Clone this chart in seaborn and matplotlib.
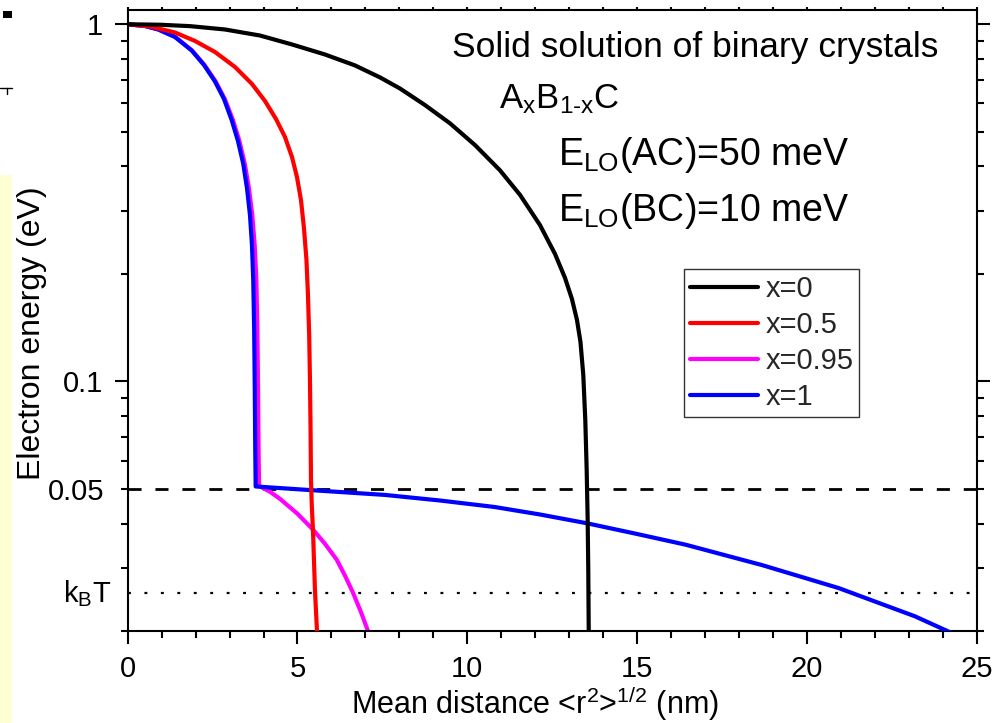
import numpy as np
import pandas as pd
import matplotlib
matplotlib.use("Agg")
import matplotlib.pyplot as plt
from matplotlib.lines import Line2D
from matplotlib.patches import Rectangle
from matplotlib.ticker import FixedLocator, FixedFormatter
import matplotlib.transforms as mtransforms
import seaborn as sns

# ---- data: electron energy (eV) vs mean distance (nm) ----
r_x0 = [0.0, 0.951, 1.835, 2.865, 3.896, 4.838, 5.810, 6.693, 7.429, 8.018,
        8.754, 9.491, 10.227, 10.963, 11.552, 12.141, 12.583, 12.877, 13.083,
        13.230, 13.333, 13.416, 13.475, 13.516, 13.545, 13.563, 13.578]
E_x0 = [1.0, 0.997, 0.988, 0.967, 0.930, 0.878, 0.823, 0.767, 0.710, 0.661,
        0.594, 0.528, 0.459, 0.390, 0.333, 0.274, 0.2275, 0.195, 0.170,
        0.1486, 0.129, 0.1043, 0.0780, 0.0565, 0.0410, 0.0297, 0.0189]

r_x05 = [0.0, 0.657, 1.393, 1.982, 2.571, 3.160, 3.660, 4.043, 4.367, 4.632,
         4.838, 4.985, 5.103, 5.191, 5.265, 5.309, 5.345, 5.368, 5.386, 5.398,
         5.421, 5.456, 5.486, 5.515, 5.551, 5.589]
E_x05 = [1.0, 0.986, 0.9485, 0.898, 0.8365, 0.7594, 0.6807, 0.6099, 0.5431, 0.4836,
         0.4251, 0.3737, 0.3222, 0.2690, 0.2188, 0.1746, 0.1349, 0.1010, 0.0731, 0.0530,
         0.0451, 0.0384, 0.0316, 0.0261, 0.0222, 0.0189]

r_x095 = [0.0, 0.51, 0.905, 1.40, 1.895, 2.26, 2.59, 2.86, 3.10, 3.29, 3.45,
          3.57, 3.67, 3.74, 3.79, 3.82, 3.84, 3.855, 3.87,
          3.896, 4.191, 4.485, 5.000, 5.465, 5.810, 6.154, 6.399, 6.643, 6.870,
          7.085, 7.135]
E_x095 = [1.0, 0.989, 0.967, 0.9214, 0.8445, 0.7693, 0.6917, 0.6178, 0.5396, 0.4713, 0.4064,
          0.3480, 0.2924, 0.2410, 0.1924, 0.1394, 0.0947, 0.0643, 0.0512,
          0.0508, 0.0491, 0.0469, 0.0426, 0.0384, 0.0351, 0.0317, 0.0286, 0.0255, 0.0226,
          0.0199, 0.0193]

r_x1 = [0.0, 0.509, 0.901, 1.393, 1.885, 2.247, 2.571, 2.836, 3.062, 3.248, 3.404,
        3.513, 3.601, 3.660, 3.698, 3.725, 3.743, 3.757, 3.769,
        5.271, 7.577, 9.196, 10.804, 12.141, 13.504, 14.938, 16.428, 18.678,
        20.928, 23.177, 24.187, 24.361]
E_x1 = [1.0, 0.989, 0.967, 0.9214, 0.8445, 0.7693, 0.6917, 0.6178, 0.5396, 0.4713, 0.4064,
        0.3480, 0.2924, 0.2410, 0.1924, 0.1394, 0.0947, 0.0643, 0.0508,
        0.0497, 0.0481, 0.0464, 0.0445, 0.0424, 0.0401, 0.0375, 0.0349, 0.0306,
        0.0264, 0.0220, 0.0199, 0.0196]

series_labels = ["x=0", "x=0.5", "x=0.95", "x=1"]
series_colors = ["#000000", "#FF0000", "#FF00FF", "#0000FF"]

E_LO_AC = 0.05      # LO phonon energy of AC (eV)
kT = 0.0255         # thermal energy at room temperature (eV)

x_major = [0, 5, 10, 15, 20, 25]
y_major = [1.0, 0.1]
y_minor = [0.02, 0.03, 0.04, 0.05, 0.06, 0.07, 0.08, 0.09,
           0.2, 0.3, 0.4, 0.5, 0.6, 0.7, 0.8, 0.9]

# ---- style ----
sns.set_theme(style="ticks")
plt.rcParams["font.family"] = ["Liberation Sans", "DejaVu Sans"]
plt.rcParams["mathtext.fontset"] = "custom"
plt.rcParams["mathtext.rm"] = "Liberation Sans"
plt.rcParams["mathtext.it"] = "Liberation Sans:italic"
plt.rcParams["mathtext.default"] = "regular"
plt.rcParams["axes.linewidth"] = 1.5

fig = plt.figure(figsize=(9.95, 7.23), dpi=100)
ax = fig.add_axes([0.1283, 0.1272, 0.8533, 0.8589])

# reference levels
ax.axhline(E_LO_AC, color="black", lw=2.0, ls=(0, (4.7, 5.0)), zorder=1)
ax.axhline(kT, color="black", lw=1.6, ls=(0, (1.3, 6.1)), zorder=1)

frames = []
for lab, r, e in zip(series_labels, [r_x0, r_x05, r_x095, r_x1],
                     [E_x0, E_x05, E_x095, E_x1]):
    frames.append(pd.DataFrame({"r": r, "E": e, "series": lab}))
df = pd.concat(frames, ignore_index=True)

palette = dict(zip(series_labels, series_colors))
zorders = {"x=0.95": 2, "x=1": 3, "x=0.5": 4, "x=0": 5}
for lab in ["x=0.95", "x=1", "x=0.5", "x=0"]:
    sub = df[df["series"] == lab]
    sns.lineplot(data=sub, x="r", y="E", ax=ax, color=palette[lab], lw=3.0,
                 sort=False, estimator=None, zorder=zorders[lab], legend=False)

ax.set_yscale("log")
ax.set_xlim(0, 25)
ax.set_ylim(0.02, 1.096)

# x ticks
ax.xaxis.set_major_locator(FixedLocator(x_major))
ax.xaxis.set_minor_locator(FixedLocator(list(range(0, 26))))
ax.set_xticklabels([str(v) for v in x_major])

# y ticks
ax.yaxis.set_major_locator(FixedLocator(y_major))
ax.yaxis.set_major_formatter(FixedFormatter(["1", "0.1"]))
ax.yaxis.set_minor_locator(FixedLocator(y_minor))
ax.yaxis.set_minor_formatter(FixedFormatter(["0.05" if v == 0.05 else "" for v in y_minor]))

ax.tick_params(axis="both", which="major", direction="out", length=9.2, width=1.5,
               labelsize=21, top=True, right=True, color="black", labelcolor="black")
ax.tick_params(axis="both", which="minor", direction="out", length=5.0, width=1.5,
               labelsize=21, top=True, right=True, color="black", labelcolor="black")
ax.tick_params(axis="x", which="major", pad=8.0)
ax.tick_params(axis="y", which="major", pad=8.6)
ax.tick_params(axis="y", which="minor", pad=11.5)

for t in ax.xaxis.get_major_ticks() + ax.xaxis.get_minor_ticks():
    t.tick2line.set_markersize(2.0)

for s in ax.spines.values():
    s.set_color("black")
    s.set_linewidth(1.5)

ax.grid(False)

# kB T label at the thermal level
tr = mtransforms.blended_transform_factory(ax.transAxes, ax.transData)
ax.annotate(r"k$_\mathregular{B}$T", xy=(0, kT), xycoords=tr, xytext=(-12, -6.5),
            textcoords="offset points", ha="right", va="baseline", fontsize=21,
            color="black", annotation_clip=False)

ax.set_xlabel(r"Mean distance <r$^\mathregular{2}$>$^\mathregular{1/2}$ (nm)",
              fontsize=22, color="black")
ax.set_ylabel("Electron energy (eV)", fontsize=23, color="black")
ax.xaxis.set_label_coords(0.48, -0.086)
ax.yaxis.set_label_coords(-0.095, 0.48)

# description of the crystals
def ax_xy(px, py):
    return ((px - 127.7) / 849.0, (631.0 - py) / 621.0)

ta = dict(transform=ax.transAxes, color="black", va="baseline", ha="left")
ax.text(*ax_xy(452, 57), "Solid solution of binary crystals", fontsize=25.5, **ta)
ax.text(*ax_xy(499, 108), r"A$_\mathregular{x}$B$_\mathregular{1\text{-}x}$C",
        fontsize=25, **ta)
ax.text(*ax_xy(558, 165), r"E$_\mathregular{LO}$(AC)=50 meV", fontsize=27, **ta)
ax.text(*ax_xy(558, 221), r"E$_\mathregular{LO}$(BC)=10 meV", fontsize=27, **ta)

# legend in x order
handles = [Line2D([], [], color=c, lw=3.0) for c in series_colors]
leg = ax.legend(handles, series_labels, loc="upper left",
                bbox_to_anchor=ax_xy(684, 269), bbox_transform=ax.transAxes,
                borderaxespad=0, fontsize=21, frameon=True, fancybox=False,
                shadow=False, handlelength=2.35, handletextpad=0.25,
                borderpad=0.2, labelspacing=0.28)
leg.get_frame().set_edgecolor("#333333")
leg.get_frame().set_linewidth(1.0)
leg.get_frame().set_alpha(1.0)

# margin strip and marks at the left border
fig.patches.append(Rectangle((0, 0), 12 / 995, (723 - 175) / 723,
                             transform=fig.transFigure, facecolor="#FFFFD6",
                             edgecolor="none", zorder=0))
fig.patches.append(Rectangle((3 / 995, 1 - 18 / 723), 9 / 995, 7 / 723,
                             transform=fig.transFigure, facecolor="black",
                             edgecolor="none"))
fig.lines.append(Line2D([0, 12 / 995], [1 - 88 / 723, 1 - 88 / 723],
                        transform=fig.transFigure, color="black", lw=1.0))
fig.lines.append(Line2D([7 / 995, 7 / 995], [1 - 88 / 723, 1 - 94 / 723],
                        transform=fig.transFigure, color="black", lw=1.0))

fig.savefig("out.png", dpi=100)
